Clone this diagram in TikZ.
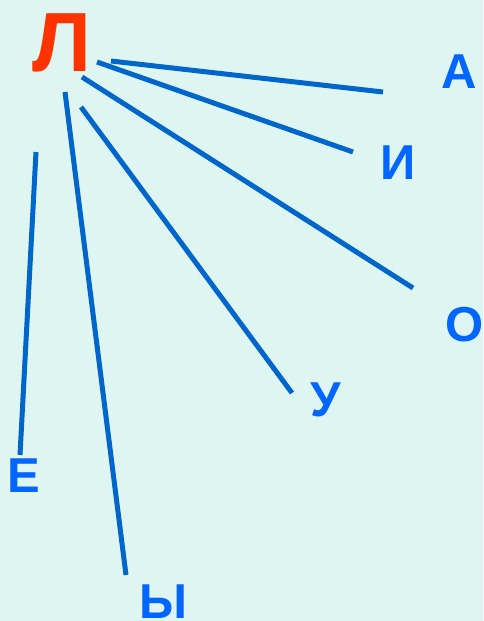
\documentclass[tikz,border=0pt]{standalone}
\usepackage{fontspec}
\setmainfont{Liberation Sans}
\usetikzlibrary{positioning}

\definecolor{bgmint}{HTML}{DFF5F2}
\definecolor{letterred}{HTML}{FF3300}
\definecolor{letterblue}{HTML}{0066FF}
\definecolor{rayblue}{HTML}{0066CC}

\begin{document}
\begin{tikzpicture}[
            x=1pt, y=-1pt,
            consonant/.style={inner sep=0pt, text=letterred, font=\fontsize{84}{84}\selectfont\bfseries},
            vowel/.style={inner sep=0pt, text=letterblue, font=\fontsize{49}{49}\selectfont\bfseries},
            ray/.style={draw=rayblue, line width=5pt}
        ]
        
        % Background
        \fill[bgmint] (0,0) rectangle (483,621);
        \useasboundingbox (0,0) rectangle (483,621);
        
        % Letters
        \node[consonant] (let_l) at (61.5,43) {Л};
        \node[vowel] (let_a) at (459.5,71.5) {А};
        \node[vowel] (let_i) at (398,163) {И};
        \node[vowel] (let_o) at (464.5,325) {О};
        \node[vowel] (let_u) at (325.5,400) {У};
        \node[vowel] (let_e) at (24,476) {Е};
        \node[vowel] (let_y) at (163,602) {Ы};
        
        % Ray ends near Л
        \coordinate (start_a) at (111,61);
        \coordinate (start_i) at (97,62);
        \coordinate (start_o) at (82,77);
        \coordinate (start_u) at (81,107);
        \coordinate (start_y) at (65,92);
        
        % Ray ends near the vowels
        \coordinate (end_a) at (383,92);
        \coordinate (end_i) at (353,152);
        \coordinate (end_o) at (413,288);
        \coordinate (end_u) at (292,393);
        \coordinate (end_y) at (126,575);
        
        % Rays from Л
        \foreach \v in {a, i, o, u, y}
            \draw[ray] (start_\v) -- (end_\v);
        
        % Loose line above Е
        \coordinate (top_e) at (36,152);
        \coordinate (bottom_e) at (20,455);
        \draw[ray] (top_e) -- (bottom_e);
        
    \end{tikzpicture}
\end{document}
